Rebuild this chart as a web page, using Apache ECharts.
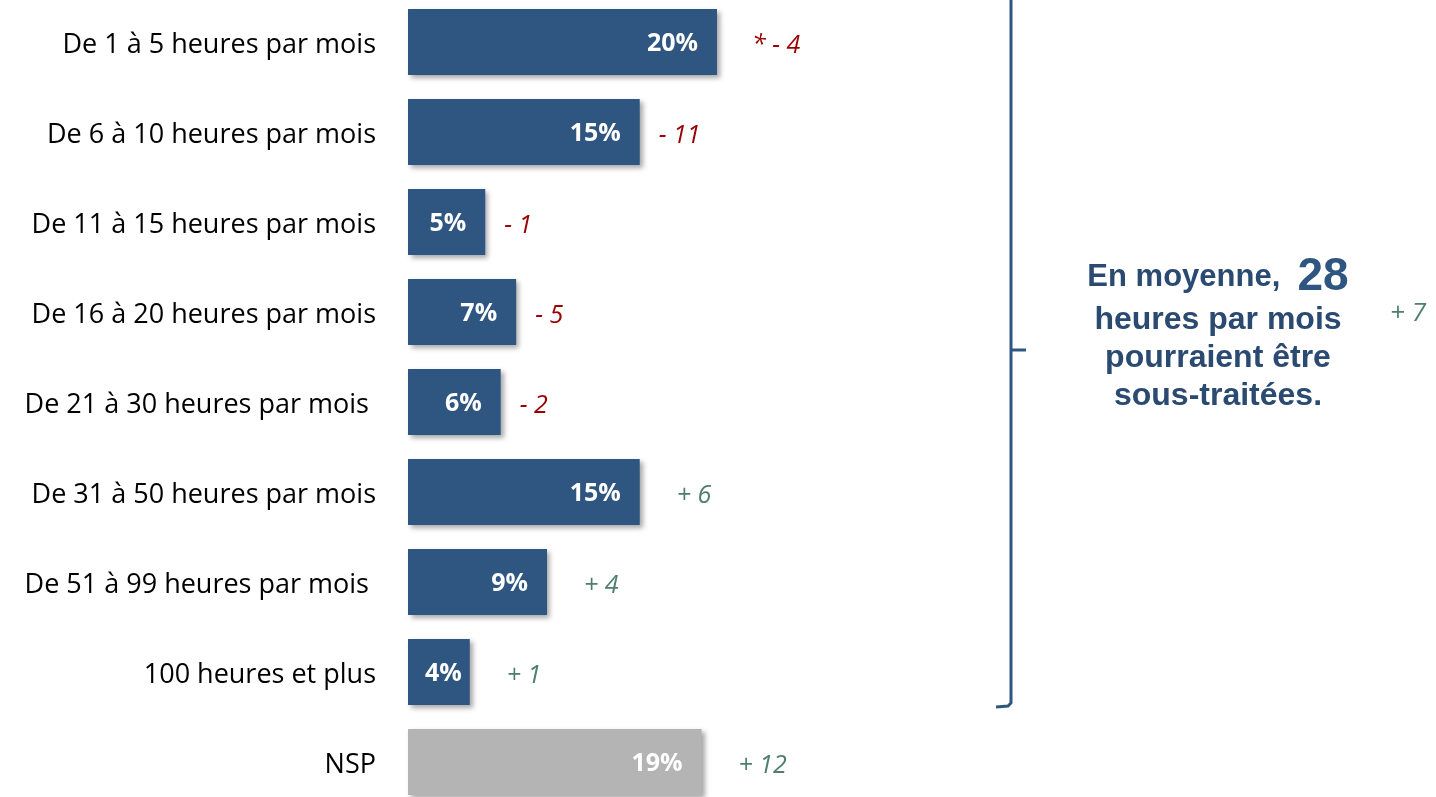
<!DOCTYPE html>
<html>
<head>
<meta charset="utf-8">
<script src="https://cdn.jsdelivr.net/npm/echarts@6/dist/echarts.min.js"></script>
<style>html,body{margin:0;padding:0;background:#fff;}#c{width:1436px;height:797px;}</style>
</head>
<body>
<div id="c"></div>
<script>
var categories = ['De 1 à 5 heures par mois','De 6 à 10 heures par mois','De 11 à 15 heures par mois','De 16 à 20 heures par mois','De 21 à 30 heures par mois ','De 31 à 50 heures par mois','De 51 à 99 heures par mois ','100 heures et plus','NSP'];
var values = [20, 15, 5, 7, 6, 15, 9, 4, 19];
var changes = ['* - 4','- 11','- 1','- 5','- 2','+ 6','+ 4','+ 1','+ 12'];
var averageChange = '+ 7';

var BLUE = '#2F5680', GREY = '#B4B4B4', RED = '#990000', GREEN = '#4F7F6C', TXT = '#2B4A72';
var FONT = 'Open Sans';
var BOLDFONT = 'Liberation Sans';

var barData = values.map(function (v, i) {
  return { value: v, itemStyle: { color: i === values.length - 1 ? GREY : BLUE },
           label: { distance: v < 5 ? 8 : 19 } };
});
var changeData = values.map(function (v, i) {
  var c = changes[i];
  var neg = c.charAt(0) === '-';
  var star = c.charAt(0) === '*';
  return {
    value: v,
    label: { distance: star ? 35 : (neg ? 19 : 37), color: (neg || star) ? RED : GREEN }
  };
});

var chart = echarts.init(document.getElementById('c'));
chart.setOption({
  animation: false,
  grid: { left: 408, top: -3, height: 810, width: 618, outerBoundsMode: 'none', containLabel: false },
  xAxis: { type: 'value', min: 0, max: 40, show: false },
  yAxis: {
    type: 'category', data: categories, inverse: true,
    axisLine: { show: false }, axisTick: { show: false },
    axisLabel: { margin: 32, formatter: function (v) { return '{a|' + v + '}'; },
      rich: { a: { fontSize: 27, color: '#000', fontFamily: FONT, padding: [7, 0, 0, 0] } } }
  },
  series: [
    {
      type: 'bar', data: barData, barWidth: 66, silent: true,
      itemStyle: { shadowBlur: 5, shadowOffsetX: 3, shadowOffsetY: 3, shadowColor: 'rgba(0,0,0,0.35)' },
      label: { show: true, position: 'insideRight', offset: [0, 2], color: '#fff', fontSize: 25, fontWeight: 'bold', fontFamily: FONT, formatter: '{c}%' }
    },
    {
      type: 'bar', data: changeData, barWidth: 66, barGap: '-100%', silent: true,
      itemStyle: { color: 'rgba(0,0,0,0)' },
      label: { show: true, position: 'right', offset: [0, 4], fontSize: 25, fontStyle: 'italic', fontFamily: FONT,
        formatter: function (p) { return changes[p.dataIndex]; } }
    }
  ],
  graphic: [
    { type: 'polyline', silent: true, shape: { points: [[1011, -5], [1011, 703], [1008, 706], [996, 707]] }, style: { stroke: BLUE, lineWidth: 3, fill: null } },
    { type: 'line', silent: true, shape: { x1: 1011, y1: 350, x2: 1026, y2: 350 }, style: { stroke: BLUE, lineWidth: 3 } },
    { type: 'text', silent: true, x: 1218, y: 277, style: {
        text: '{a|En moyenne,  }{b|28}', align: 'center', verticalAlign: 'middle',
        rich: { a: { fontSize: 31, fontWeight: 'bold', fontFamily: BOLDFONT, fill: TXT, color: TXT },
                b: { fontSize: 46, fontWeight: 'bold', fontFamily: BOLDFONT, fill: BLUE, color: BLUE } } } },
    { type: 'text', silent: true, x: 1218, y: 320, style: { text: 'heures par mois', align: 'center', verticalAlign: 'middle', fontSize: 32, fontWeight: 'bold', fontFamily: BOLDFONT, fill: TXT } },
    { type: 'text', silent: true, x: 1218, y: 358, style: { text: 'pourraient être', align: 'center', verticalAlign: 'middle', fontSize: 32, fontWeight: 'bold', fontFamily: BOLDFONT, fill: TXT } },
    { type: 'text', silent: true, x: 1218, y: 396, style: { text: 'sous-traitées.', align: 'center', verticalAlign: 'middle', fontSize: 32, fontWeight: 'bold', fontFamily: BOLDFONT, fill: TXT } },
    { type: 'text', silent: true, x: 1408, y: 314, style: { text: averageChange, align: 'center', verticalAlign: 'middle', fontSize: 26, fontStyle: 'italic', fontFamily: FONT, fill: GREEN } }
  ]
});
</script>
</body>
</html>
